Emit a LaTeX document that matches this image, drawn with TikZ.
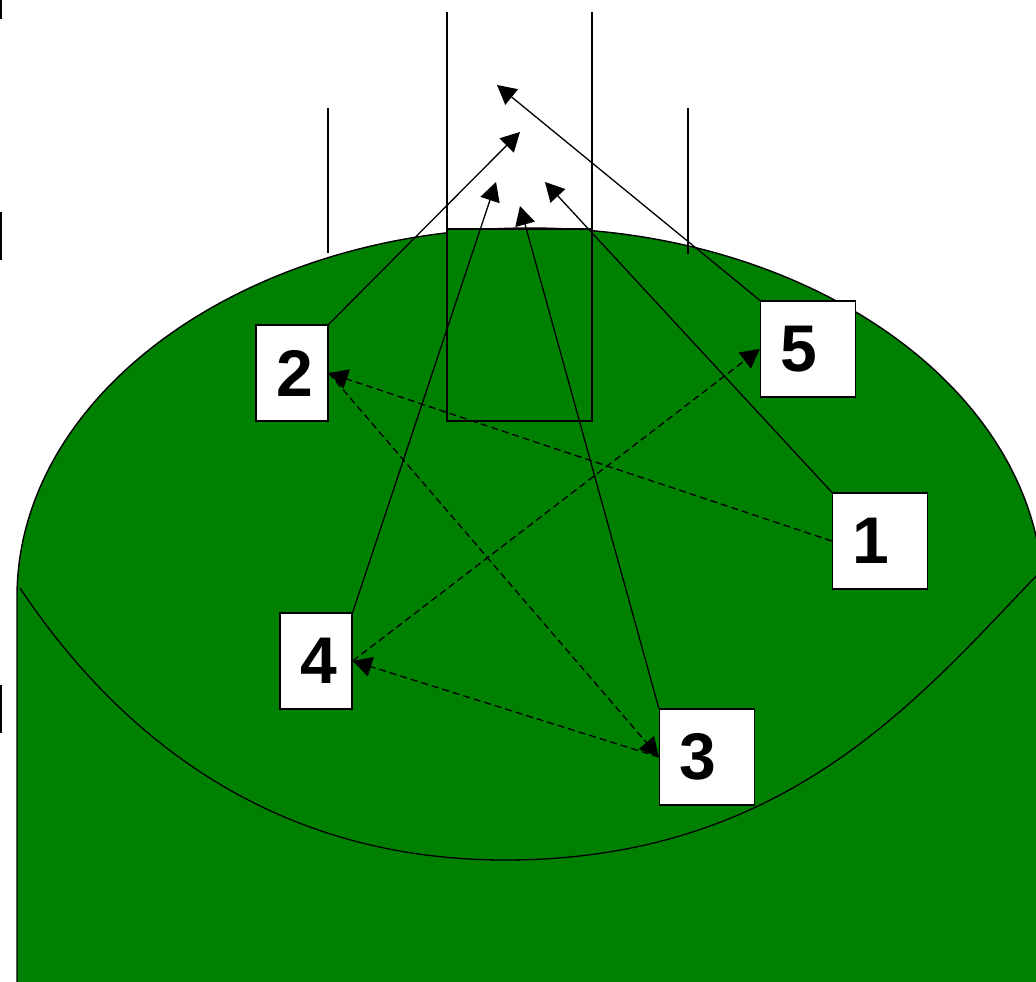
\documentclass[tikz,border=0pt]{standalone}
\usepackage{fontspec}
\setmainfont{Liberation Sans}
\usetikzlibrary{arrows.meta}
\definecolor{field}{RGB}{0,128,0}
\begin{document}
\begin{tikzpicture}[x=1pt,y=-1pt,
  numbox/.style={draw=black, line width=1.4pt, fill=white, minimum height=96pt,
    inner xsep=20pt, inner ysep=0pt, align=left,
    font=\fontsize{66pt}{66pt}\selectfont\bfseries},
  narrow/.style={numbox, text width=32pt, minimum width=72pt},
  wide/.style={numbox, text width=55pt, minimum width=95pt},
  outline/.style={draw=black, line width=1.4pt},
  post/.style={draw=black, line width=1.3pt},
  tick/.style={draw=black, line width=2.6pt},
  shot/.style={draw=black, line width=1.3pt, -{Triangle[length=19pt,width=20pt]}},
  pass/.style={shot, dash pattern=on 7pt off 4pt}]
\useasboundingbox (0,0) rectangle (1036,982);
\clip (0,0) rectangle (1036,982);
% field
\path[fill=field, outline] (17,995) -- (17,597)
  arc[start angle=180, end angle=0, x radius=513pt, y radius=369pt]
  -- (1043,995) -- cycle;
% inner arc
\draw[outline, line width=1.3pt] (20,588)
  .. controls (110.7,724) and (261,860) .. (505,860)
  .. controls (787,860) and (919.5,697.3) .. (1040,572);
% goal area
\path[fill=field, outline, line width=1.3pt] (447,229) rectangle (592,421);
\draw[post] (447,12) -- (447,229);
\draw[post] (592,12) -- (592,229);
\draw[post] (328,108) -- (328,253);
\draw[post] (688,108) -- (688,254);
% edge ticks
\draw[tick] (1,0) -- (1,19);
\draw[tick] (1,212) -- (1,260);
\draw[tick] (1,685) -- (1,733);
% target points
\coordinate (t5) at (497,85);
\coordinate (t2) at (520,132);
\coordinate (t4) at (496,182);
\coordinate (t3) at (520,206);
\coordinate (t1) at (545,182);
% boxes
\node[narrow] (n2) at (292,373) {\rlap{2}};
\node[wide] (n5) at (808,349) {\rlap{5}};
\node[wide] (n1) at (880,541) {\rlap{1}};
\node[narrow] (n4) at (316,661) {\rlap{4}};
\node[wide] (n3) at (707,757) {\rlap{3}};
% shots
\draw[shot] (n5.north west) -- (t5);
\draw[shot] (n2.north east) -- (t2);
\draw[shot] (n4.north east) -- (t4);
\draw[shot] (n3.north west) -- (t3);
\draw[shot] (n1.north west) -- (t1);
% passes
\draw[pass] (n1.west) -- (n2.east);
\draw[pass] (n2.east) -- (n3.west);
\draw[pass] (n3.west) -- (n4.east);
\draw[pass] (n4.east) -- (n5.west);
\end{tikzpicture}
\end{document}
